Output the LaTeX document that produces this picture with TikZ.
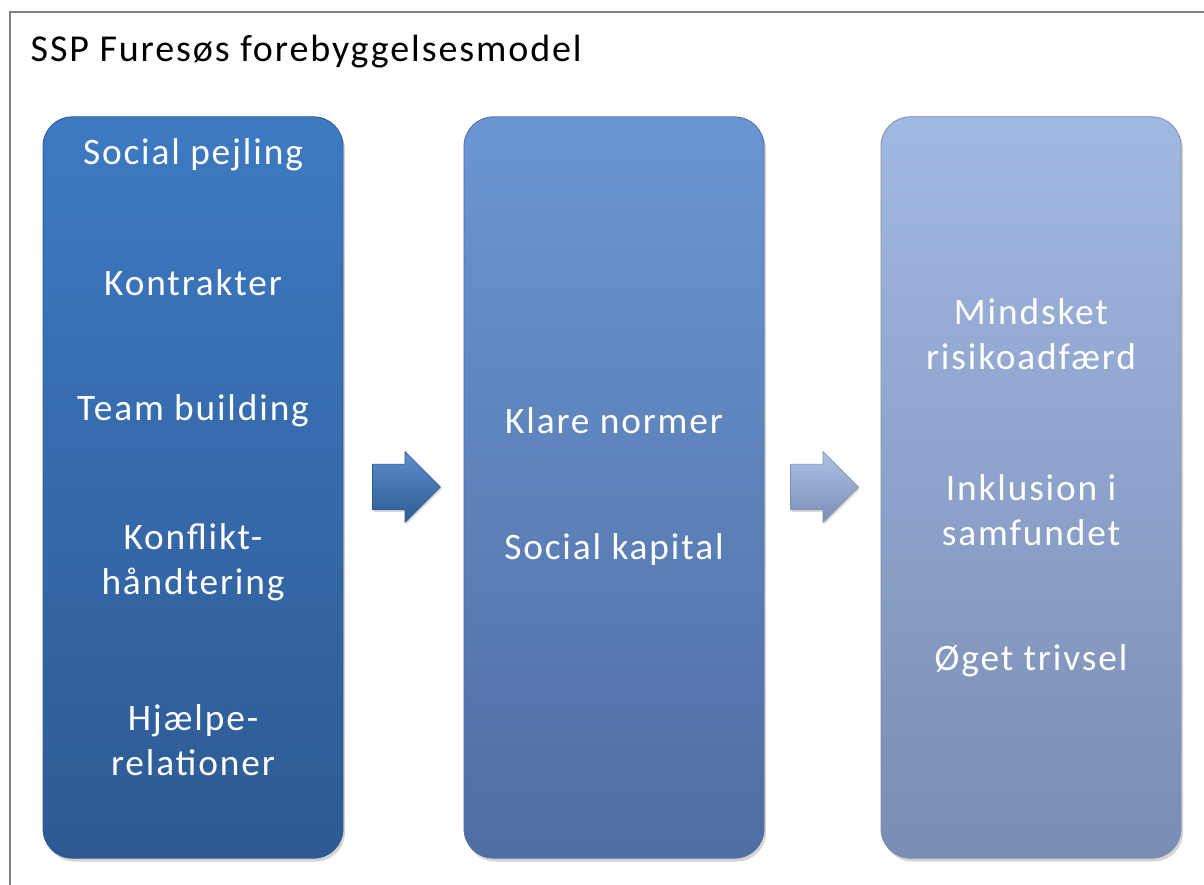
\documentclass[tikz,border=0pt]{standalone}
\usepackage{fontspec}
\setmainfont[LetterSpace=5]{Carlito}
\usepackage{tikz}
\usetikzlibrary{positioning, shapes.arrows, shadows}

\definecolor{darkblue}{HTML}{3E7AC2}
\definecolor{darkblueb}{HTML}{2D5A93}
\definecolor{midblue}{HTML}{6B96D3}
\definecolor{midblueb}{HTML}{4F6EA2}
\definecolor{paleblue}{HTML}{A1B8E2}
\definecolor{paleblueb}{HTML}{7A8DB3}

\begin{document}
\begin{tikzpicture}[
    x=0.75pt, y=-0.75pt,
    column/.style={rectangle, rounded corners=22pt, minimum width=225pt, minimum height=556pt, line width=0.6pt,
        drop shadow={shadow xshift=1.5pt, shadow yshift=-2.5pt, opacity=0.35}},
    item/.style={text=white, align=center, font=\fontsize{28}{34}\selectfont},
    flow/.style={single arrow, single arrow head extend=9.4pt, single arrow head indent=0pt, minimum height=51pt,
        inner xsep=0pt, inner ysep=16.9pt, line width=0.5pt,
        drop shadow={shadow xshift=1pt, shadow yshift=-1.5pt, opacity=0.3}},
    heading/.style={anchor=base west, font=\fontsize{28.5}{34}\selectfont, text=black}
]
\useasboundingbox (0,0) rectangle (1204,885);

% Frame and heading
\draw[gray, line width=1.4pt] (10,885) |- (1204,12);
\node[heading] (title) at (26,61) {SSP Furesøs forebyggelsesmodel};

% Three columns
\node[column, top color=darkblue, bottom color=darkblueb, draw=darkblueb] (left) at (193,487.5) {};
\node[column, top color=midblue, bottom color=midblueb, draw=midblueb] (middle) at (614,487.5) {};
\node[column, top color=paleblue, bottom color=paleblueb, draw=paleblueb] (right) at (1031,487.5) {};

% Arrows between columns
\node[flow, top color=darkblue!85!white, bottom color=darkblueb, draw=darkblueb] (go1) at (395,487) {};
\node[flow, top color=paleblue!85!white, bottom color=paleblueb, draw=paleblueb] (go2) at (813,487) {};

% Left column
\node[item] (pejling) at (193,155) {Social pejling};
\node[item] (kontrakter) at (193,283) {Kontrakter};
\node[item] (team) at (193,411) {Team building};
\node[item] (konflikt) at (193,562) {Konflikt-\\håndtering};
\node[item] (hjaelpe) at (193,740) {Hjælpe-\\relationer};

% Middle column
\node[item] (normer) at (614,421) {Klare normer};
\node[item] (kapital) at (614,550) {Social kapital};

% Right column
\node[item] (risiko) at (1031,334) {Mindsket\\risikoadfærd};
\node[item] (inklusion) at (1031,510) {Inklusion i\\samfundet};
\node[item] (trivsel) at (1031,661) {Øget trivsel};

\end{tikzpicture}
\end{document}
